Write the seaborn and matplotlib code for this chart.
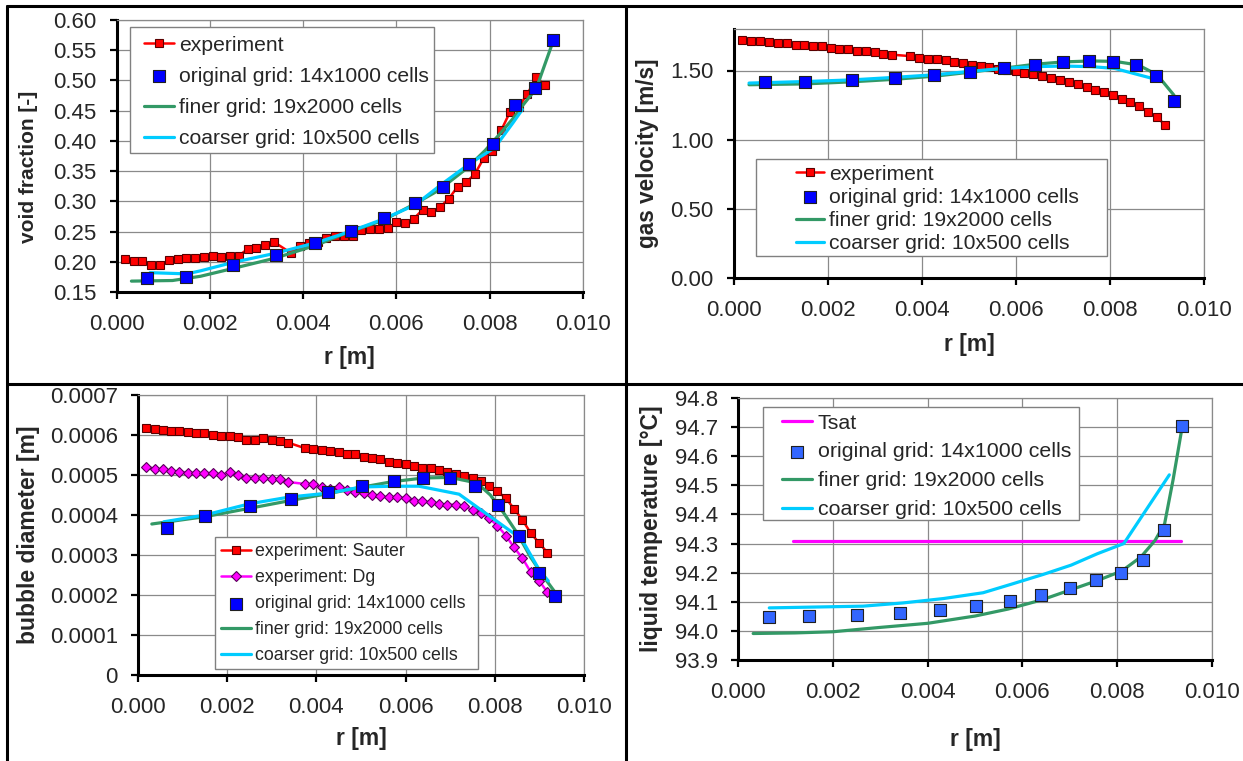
import numpy as np
import pandas as pd
import seaborn as sns
import matplotlib.pyplot as plt
from matplotlib.patches import Rectangle
from matplotlib.lines import Line2D
from matplotlib.ticker import FormatStrFormatter, FuncFormatter

# measurement radii (one point missing near r = 0.0036)
r_exp = [0.00018, 0.00037, 0.00055, 0.00074, 0.00093, 0.00112, 0.00131, 0.00149, 0.00168, 0.00187,
         0.00206, 0.00224, 0.00243, 0.00262, 0.00281, 0.00300, 0.00318, 0.00337,
         0.00375, 0.00393, 0.00412, 0.00431, 0.00450, 0.00468, 0.00487, 0.00506, 0.00525, 0.00543,
         0.00562, 0.00581, 0.00600, 0.00618, 0.00637, 0.00656, 0.00675, 0.00693, 0.00712, 0.00731,
         0.00750, 0.00768, 0.00787, 0.00806, 0.00825, 0.00843, 0.00862, 0.00881, 0.00900, 0.00918]

void_exp = [0.205, 0.202, 0.201, 0.194, 0.194, 0.203, 0.204, 0.206, 0.207, 0.208, 0.209, 0.208,
            0.209, 0.210, 0.221, 0.222, 0.228, 0.233,
            0.214, 0.226, 0.231, 0.232, 0.240, 0.242, 0.242, 0.242, 0.252, 0.254, 0.254, 0.256,
            0.265, 0.264, 0.271, 0.286, 0.283, 0.290, 0.304, 0.324, 0.332, 0.345, 0.371, 0.384,
            0.418, 0.447, 0.456, 0.478, 0.505, 0.492]

vel_exp = [1.723, 1.713, 1.713, 1.703, 1.699, 1.696, 1.684, 1.684, 1.677, 1.674, 1.662, 1.655,
           1.655, 1.643, 1.640, 1.631, 1.621, 1.614,
           1.604, 1.592, 1.585, 1.582, 1.573, 1.561, 1.551, 1.541, 1.531, 1.522, 1.512, 1.505,
           1.493, 1.481, 1.473, 1.461, 1.444, 1.432, 1.415, 1.403, 1.384, 1.362, 1.345, 1.325,
           1.296, 1.272, 1.241, 1.202, 1.163, 1.103]

sauter_exp = [6.167e-4, 6.142e-4, 6.125e-4, 6.108e-4, 6.092e-4, 6.067e-4, 6.042e-4, 6.042e-4, 6.008e-4,
              5.983e-4, 5.983e-4, 5.942e-4, 5.875e-4, 5.867e-4, 5.917e-4, 5.883e-4, 5.858e-4, 5.808e-4,
              5.667e-4, 5.658e-4, 5.625e-4, 5.600e-4, 5.575e-4, 5.533e-4, 5.517e-4, 5.450e-4, 5.433e-4,
              5.408e-4, 5.317e-4, 5.300e-4, 5.283e-4, 5.225e-4, 5.167e-4, 5.167e-4, 5.117e-4, 5.067e-4,
              5.025e-4, 4.975e-4, 4.925e-4, 4.858e-4, 4.733e-4, 4.592e-4, 4.417e-4, 4.158e-4, 3.875e-4,
              3.542e-4, 3.292e-4, 3.058e-4]

dg_exp = [5.208e-4, 5.158e-4, 5.142e-4, 5.108e-4, 5.083e-4, 5.058e-4, 5.050e-4, 5.042e-4, 5.058e-4,
          5.008e-4, 5.067e-4, 5.000e-4, 4.933e-4, 4.933e-4, 4.917e-4, 4.900e-4, 4.900e-4, 4.825e-4,
          4.775e-4, 4.767e-4, 4.692e-4, 4.650e-4, 4.692e-4, 4.625e-4, 4.575e-4, 4.542e-4, 4.500e-4,
          4.467e-4, 4.442e-4, 4.458e-4, 4.417e-4, 4.358e-4, 4.342e-4, 4.317e-4, 4.275e-4, 4.258e-4,
          4.258e-4, 4.217e-4, 4.125e-4, 4.058e-4, 3.925e-4, 3.733e-4, 3.483e-4, 3.192e-4, 2.917e-4,
          2.567e-4, 2.350e-4, 2.067e-4]

# original grid 14x1000 cells
r_grid = [0.00066, 0.0015, 0.0025, 0.00342, 0.00426, 0.00503, 0.00574, 0.0064, 0.0070, 0.00756,
          0.00807, 0.00855, 0.00898, 0.00936]
void_orig = [0.1732, 0.1754, 0.1952, 0.2107, 0.2316, 0.2515, 0.2730, 0.2978, 0.3243, 0.3623,
             0.3954, 0.4588, 0.4875, 0.5669]
vel_orig = [1.417, 1.417, 1.429, 1.446, 1.466, 1.492, 1.517, 1.541, 1.560, 1.566, 1.564, 1.538,
            1.459, 1.280]
d_orig = [3.683e-4, 3.983e-4, 4.225e-4, 4.400e-4, 4.567e-4, 4.725e-4, 4.858e-4, 4.933e-4, 4.917e-4,
          4.725e-4, 4.258e-4, 3.475e-4, 2.558e-4, 1.983e-4]
T_orig = [94.048, 94.050, 94.053, 94.061, 94.071, 94.085, 94.103, 94.123, 94.149, 94.174, 94.200,
          94.244, 94.348, 94.703]

# finer grid 19x2000 cells
r_fine_void = [0.00032, 0.0012, 0.0018, 0.0025, 0.0034, 0.0043, 0.0050, 0.0057, 0.0064, 0.0069,
               0.0075, 0.0079, 0.0082, 0.0085, 0.0087, 0.0090, 0.00936]
void_fine = [0.168, 0.169, 0.176, 0.189, 0.206, 0.228, 0.250, 0.268, 0.296, 0.318, 0.354, 0.384,
             0.410, 0.437, 0.458, 0.487, 0.565]
r_fine_vel = [0.00032, 0.0015, 0.0025, 0.0034, 0.0043, 0.0050, 0.0057, 0.0064, 0.0070, 0.0076,
              0.0081, 0.0086, 0.0090, 0.00936]
vel_fine = [1.397, 1.403, 1.418, 1.436, 1.460, 1.487, 1.515, 1.545, 1.562, 1.569, 1.566, 1.540,
            1.470, 1.322]
r_fine_d = [0.00031, 0.0015, 0.0025, 0.0034, 0.0043, 0.0050, 0.0057, 0.0064, 0.0070, 0.0076,
            0.0079, 0.0082, 0.0085, 0.0088, 0.0091, 0.00937]
d_fine = [3.775e-4, 3.958e-4, 4.167e-4, 4.358e-4, 4.542e-4, 4.692e-4, 4.833e-4, 4.925e-4, 4.94e-4,
          4.80e-4, 4.50e-4, 4.05e-4, 3.55e-4, 2.95e-4, 2.45e-4, 2.04e-4]
r_fine_T = [0.00032, 0.0012, 0.0020, 0.0030, 0.0040, 0.0050, 0.0057, 0.0064, 0.0070, 0.0076,
            0.0081, 0.0085, 0.0088, 0.0090, 0.00918, 0.00937]
T_fine = [93.991, 93.993, 93.997, 94.012, 94.026, 94.051, 94.075, 94.106, 94.140, 94.174, 94.206,
          94.254, 94.311, 94.368, 94.520, 94.700]

# coarser grid 10x500 cells
r_coarse_void = [0.00072, 0.0015, 0.0018, 0.0025, 0.0034, 0.0043, 0.0050, 0.0057, 0.0064, 0.0070,
                 0.0076, 0.0081, 0.0085, 0.0087]
void_coarse = [0.182, 0.180, 0.185, 0.199, 0.214, 0.232, 0.250, 0.270, 0.294, 0.330, 0.364, 0.388,
               0.430, 0.452]
r_coarse_vel = [0.00032, 0.0015, 0.0025, 0.0034, 0.0043, 0.0050, 0.0057, 0.0064, 0.0070, 0.0076,
                0.0081, 0.0090]
vel_coarse = [1.409, 1.420, 1.432, 1.450, 1.470, 1.493, 1.514, 1.528, 1.532, 1.528, 1.515, 1.434]
r_coarse_d = [0.00058, 0.0015, 0.0025, 0.0034, 0.0043, 0.0050, 0.0057, 0.0063, 0.0072, 0.0081,
              0.0086, 0.0090, 0.0092]
d_coarse = [3.83e-4, 4.00e-4, 4.28e-4, 4.45e-4, 4.55e-4, 4.70e-4, 4.72e-4, 4.72e-4, 4.52e-4,
            3.80e-4, 3.40e-4, 2.62e-4, 2.35e-4]
r_coarse_T = [0.00066, 0.00264, 0.00348, 0.00433, 0.00517, 0.00576, 0.00644, 0.00703, 0.00758,
              0.00814, 0.0091]
T_coarse = [94.079, 94.085, 94.096, 94.111, 94.131, 94.160, 94.194, 94.226, 94.265, 94.300, 94.536]

r_tsat = [0.00116, 0.00935]
T_sat = [94.31, 94.31]

x_ticks = [0.000, 0.002, 0.004, 0.006, 0.008, 0.010]

sns.set_style("white")
plt.rcParams['font.family'] = ['Liberation Sans', 'DejaVu Sans']

W, H = 1243, 761
fig = plt.figure(figsize=(W / 100, H / 100), dpi=100)
fig.patch.set_facecolor('white')


def box(l, t, r, b):
    return [l / W, 1 - b / H, (r - l) / W, (b - t) / H]


ax1 = fig.add_axes(box(116.5, 20, 583, 292))
ax2 = fig.add_axes(box(734, 29, 1204, 278))
ax3 = fig.add_axes(box(138, 395, 584, 675))
ax4 = fig.add_axes(box(738, 398, 1212, 660))

RED, GREEN, CYAN, BLUE, MAG = '#FF0000', '#339966', '#00CCFF', '#0000FF', '#FF00FF'


def exp_line(ax, x, y, label, color=RED, marker='s', ms=5.5, edge='#5a0000'):
    sns.lineplot(x=x, y=y, ax=ax, color=color, lw=1.8, marker=marker, markersize=ms,
                 markerfacecolor=color, markeredgecolor=edge, markeredgewidth=0.8,
                 label=label, legend=False, estimator=None, sort=False, zorder=2)


def grid_pts(ax, x, y, color=BLUE):
    sns.scatterplot(x=x, y=y, ax=ax, marker='s', s=66, color=color, edgecolor='#202020',
                    linewidth=0.8, label='original grid: 14x1000 cells', legend=False, zorder=4)


def sim_line(ax, x, y, color, label, z):
    sns.lineplot(x=x, y=y, ax=ax, color=color, lw=2.3, label=label, legend=False,
                 estimator=None, sort=False, zorder=z)


# void fraction
exp_line(ax1, r_exp, void_exp, 'experiment')
grid_pts(ax1, r_grid, void_orig)
sim_line(ax1, r_fine_void, void_fine, GREEN, 'finer grid: 19x2000 cells', 3)
sim_line(ax1, r_coarse_void, void_coarse, CYAN, 'coarser grid: 10x500 cells', 3.2)

# gas velocity
exp_line(ax2, r_exp, vel_exp, 'experiment')
grid_pts(ax2, r_grid, vel_orig)
sim_line(ax2, r_fine_vel, vel_fine, GREEN, 'finer grid: 19x2000 cells', 3)
sim_line(ax2, r_coarse_vel, vel_coarse, CYAN, 'coarser grid: 10x500 cells', 3.2)

# bubble diameter
exp_line(ax3, r_exp, sauter_exp, 'experiment: Sauter')
exp_line(ax3, r_exp, dg_exp, 'experiment: Dg', color=MAG, marker='D', ms=5.0, edge='#5a005a')
grid_pts(ax3, r_grid, d_orig)
sim_line(ax3, r_fine_d, d_fine, GREEN, 'finer grid: 19x2000 cells', 3)
sim_line(ax3, r_coarse_d, d_coarse, CYAN, 'coarser grid: 10x500 cells', 3.2)

# liquid temperature
sim_line(ax4, r_tsat, T_sat, MAG, 'Tsat', 2)
grid_pts(ax4, r_grid, T_orig, color='#3366FF')
sim_line(ax4, r_fine_T, T_fine, GREEN, 'finer grid: 19x2000 cells', 3)
sim_line(ax4, r_coarse_T, T_coarse, CYAN, 'coarser grid: 10x500 cells', 3.2)

setup = [
    (ax1, (0.15, 0.60), np.arange(0.15, 0.601, 0.05), FormatStrFormatter('%.2f'), 'void fraction [-]',
     (-0.168, 0.46), -0.2, 15),
    (ax2, (0.0, 1.8), [0.0, 0.5, 1.0, 1.5], FormatStrFormatter('%.2f'), 'gas velocity [m/s]',
     (-0.16, 0.5), -0.22, 16.3),
    (ax3, (0.0, 0.0007), np.arange(0, 0.00071, 0.0001),
     FuncFormatter(lambda v, p: '0' if abs(v) < 1e-12 else f'{v:.4f}'), 'bubble diameter [m]',
     (-0.22, 0.5), -0.186, 16.5),
    (ax4, (93.9, 94.8), np.arange(93.9, 94.801, 0.1), FormatStrFormatter('%.1f'),
     'liquid temperature [°C]', (-0.158, 0.5), -0.26, 16.5),
]

for ax, ylim, yt, fmt, ylab, ypos, xlab_y, yfs in setup:
    ax.set_xlim(0, 0.010)
    ax.set_ylim(*ylim)
    ax.set_xticks(x_ticks)
    ax.set_yticks(yt)
    ax.xaxis.set_major_formatter(FormatStrFormatter('%.3f'))
    ax.yaxis.set_major_formatter(fmt)
    ax.grid(True, color='#8a8a8a', lw=0.9)
    ax.set_axisbelow(True)
    for s in ['top', 'right']:
        ax.spines[s].set_color('#8a8a8a')
        ax.spines[s].set_linewidth(0.9)
    for s in ['left', 'bottom']:
        ax.spines[s].set_color('black')
        ax.spines[s].set_linewidth(2.2)
    ax.tick_params(direction='out', length=5, width=1.6, labelsize=16, color='black',
                   top=False, right=False, bottom=True, left=True)
    ax.tick_params(axis='x', pad=11)
    ax.tick_params(axis='y', pad=9.5)
    ax.set_xlabel('r [m]', fontsize=16.5, fontweight='bold')
    ax.set_ylabel(ylab, fontsize=yfs, fontweight='bold')
    ax.xaxis.set_label_coords(0.5, xlab_y)
    ax.yaxis.set_label_coords(*ypos)

# legends: frame drawn separately (Excel style legend boxes)
leg_specs = [
    (ax1, ['experiment', 'original grid: 14x1000 cells', 'finer grid: 19x2000 cells',
           'coarser grid: 10x500 cells'], (130, 27, 434, 153), 144, 45, 15.2, 0.58, 1.42, 0.24),
    (ax2, ['experiment', 'original grid: 14x1000 cells', 'finer grid: 19x2000 cells',
           'coarser grid: 10x500 cells'], (756, 159, 1107, 256), 796, 174, 15.2, 0.2, 1.33, 0.24),
    (ax3, ['experiment: Sauter', 'experiment: Dg', 'original grid: 14x1000 cells',
           'finer grid: 19x2000 cells', 'coarser grid: 10x500 cells'], (215, 537, 478, 669),
     221, 551, 12.8, 0.51, 1.69, 0.22),
    (ax4, ['Tsat', 'original grid: 14x1000 cells', 'finer grid: 19x2000 cells',
           'coarser grid: 10x500 cells'], (763, 407, 1079, 520), 782, 423, 15.4, 0.46, 1.4, 0.26),
]

for ax, order, (l, t, r, b), hx, cy, fs, ls, hl, hp in leg_specs:
    h, lab = ax.get_legend_handles_labels()
    lookup = dict(zip(lab, h))
    fig.add_artist(Rectangle((l / W, 1 - b / H), (r - l) / W, (b - t) / H, transform=fig.transFigure,
                             facecolor='white', edgecolor='#808080', lw=1.0, zorder=3))
    fpx = fs * 100 / 72
    top = cy - 0.443 * fpx
    fig.legend([lookup[k] for k in order], order, loc='upper left',
               bbox_to_anchor=(hx / W, 1 - top / H), bbox_transform=fig.transFigure,
               frameon=False, borderpad=0, borderaxespad=0, fontsize=fs, labelspacing=ls,
               handlelength=hl, handletextpad=hp, numpoints=1, scatterpoints=1)

# panel separators
for (x0, y0), (x1, y1) in [((7, 6), (1243, 6)), ((7, 6), (7, 761)), ((626, 6), (626, 761)),
                           ((7, 384), (1243, 384))]:
    fig.add_artist(Line2D([x0 / W, x1 / W], [1 - y0 / H, 1 - y1 / H], transform=fig.transFigure,
                          color='black', lw=2.2, zorder=6))

fig.savefig('out.png', dpi=100, facecolor='white')
